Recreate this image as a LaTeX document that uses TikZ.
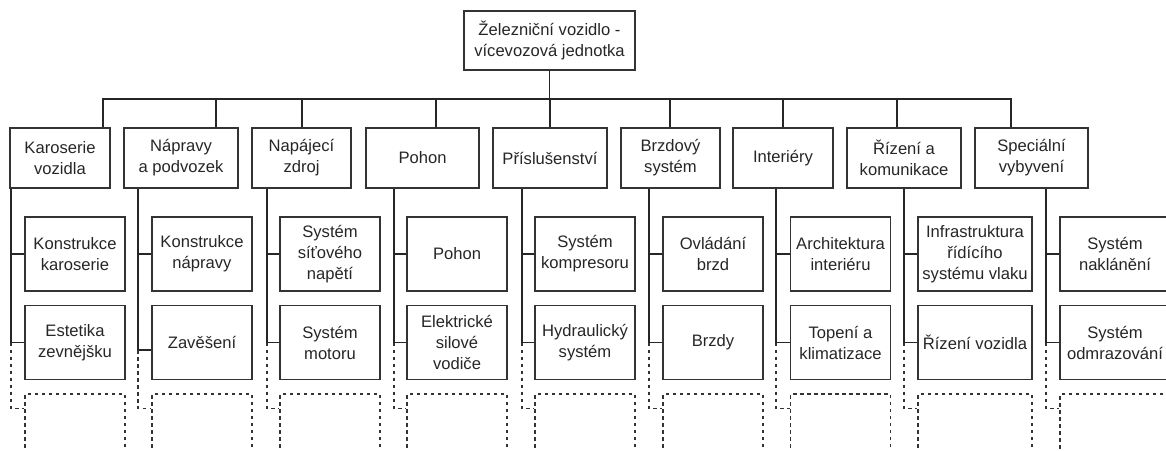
\documentclass[tikz,border=0pt]{standalone}
\usepackage{fontspec}
\setmainfont{Liberation Sans}
\begin{document}
\begin{tikzpicture}[x=1pt,y=-1pt,
  box/.style={draw=black!80, line width=1.3pt, align=center, inner sep=0pt,
    text=black!85, font=\fontsize{16.6}{21}\selectfont},
  catbox/.style={box, minimum height=60pt},
  itembox/.style={box, minimum width=100pt, minimum height=74pt},
  openbox/.style={draw=black!80, line width=1.2pt, dash pattern=on 3.5pt off 3.5pt,
    minimum width=100pt, minimum height=100pt, inner sep=0pt},
  link/.style={draw=black!85, line width=1.3pt},
  openlink/.style={draw=black!80, line width=1.2pt, dash pattern=on 3.5pt off 3.5pt}]
\useasboundingbox (0,0) rectangle (1166,450);
\clip (0,0) rectangle (1166,450);

% root
\node[box, minimum width=171pt, minimum height=59pt] (root) at (549.5,40.5)
  {Železniční vozidlo -\\vícevozová jednotka};

% first level
\node[catbox, minimum width=100pt] (k1) at (60,158)    {Karoserie\\vozidla};
\node[catbox, minimum width=114pt] (k2) at (181,158)   {Nápravy\\a podvozek};
\node[catbox, minimum width=99pt]  (k3) at (301.5,158) {Napájecí\\zdroj};
\node[catbox, minimum width=113pt] (k4) at (422.5,158) {Pohon};
\node[catbox, minimum width=114pt] (k5) at (550,158)   {Příslušenství};
\node[catbox, minimum width=99pt]  (k6) at (670.5,158) {Brzdový\\systém};
\node[catbox, minimum width=100pt] (k7) at (783,158)   {Interiéry};
\node[catbox, minimum width=114pt] (k8) at (904,158)   {Řízení a\\komunikace};
\node[catbox, minimum width=113pt] (k9) at (1031.5,158){Speciální\\vybyvení};

% drop points on the bus
\coordinate (d1) at (103,99);
\coordinate (d2) at (216,99);
\coordinate (d3) at (302,99);
\coordinate (d4) at (436,99);
\coordinate (d5) at (550,99);
\coordinate (d6) at (670,99);
\coordinate (d7) at (783,99);
\coordinate (d8) at (897,99);
\coordinate (d9) at (1011,99);
\foreach \i in {1,...,9}{
  \draw[link] (root.south) |- (d\i) -- (d\i |- k\i.north);
}

% second level
\node[itembox] (c1a) at (75,254)    {Konstrukce\\karoserie};
\node[itembox] (c1b) at (75,342.5)  {Estetika\\zevnějšku};
\node[itembox] (c2a) at (202,254)   {Konstrukce\\nápravy};
\node[itembox] (c2b) at (202,342.5) {Zavěšení};
\node[itembox] (c3a) at (330,254)   {Systém\\síťového\\napětí};
\node[itembox] (c3b) at (330,342.5) {Systém\\motoru};
\node[itembox] (c4a) at (457,254)   {Pohon};
\node[itembox] (c4b) at (457,342.5) {Elektrické\\silové\\vodiče};
\node[itembox] (c5a) at (585,254)   {Systém\\kompresoru};
\node[itembox] (c5b) at (585,342.5) {Hydraulický\\systém};
\node[itembox] (c6a) at (713,254)   {Ovládání\\brzd};
\node[itembox] (c6b) at (713,342.5) {Brzdy};
\node[itembox] (c7a) at (840.5,254) {Architektura\\interiéru};
\node[itembox] (c7b) at (840.5,342.5) {Topení a\\klimatizace};
\node[itembox, minimum width=114pt] (c8a) at (975,254) {Infrastruktura\\řídícího\\systému vlaku};
\node[itembox, minimum width=114pt] (c8b) at (975,342.5) {Řízení vozidla};
\node[itembox, minimum width=110pt] (c9a) at (1115,254) {Systém\\naklánění};
\node[itembox, minimum width=110pt] (c9b) at (1115,342.5) {Systém\\odmrazování};

% open placeholders
\node[openbox] (e1) at (75,444) {};
\node[openbox] (e2) at (202,444) {};
\node[openbox] (e3) at (330,444) {};
\node[openbox] (e4) at (457,444) {};
\node[openbox] (e5) at (585,444) {};
\node[openbox] (e6) at (713,444) {};
\node[openbox] (e7) at (840.5,444) {};
\node[openbox, minimum width=114pt] (e8) at (975,444) {};
\node[openbox, minimum width=110pt] (e9) at (1115,444) {};

% spine positions
\coordinate (v1) at (11,0);
\coordinate (v2) at (138,0);
\coordinate (v3) at (267,0);
\coordinate (v4) at (394,0);
\coordinate (v5) at (522,0);
\coordinate (v6) at (649,0);
\coordinate (v7) at (776,0);
\coordinate (v8) at (904,0);
\coordinate (v9) at (1046,0);

% joints of the lower children
\path (c1b.west) coordinate (z1);
\path ([yshift=-7.5pt]c2b.west) coordinate (z2);
\foreach \i in {3,...,9}{ \path (c\i b.west) coordinate (z\i); }

\foreach \i in {1,...,9}{
  \draw[link] (v\i |- k\i.south) |- (c\i a.west);
  \draw[link] (v\i |- k\i.south) |- (z\i);
  \draw[openlink] (v\i |- z\i) |- ([yshift=-15pt]e\i.north west);
}
\end{tikzpicture}
\end{document}
